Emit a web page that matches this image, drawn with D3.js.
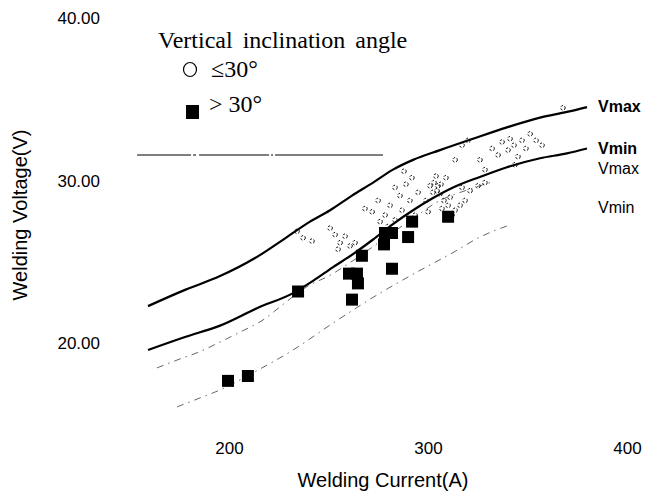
<!DOCTYPE html>
<html>
<head>
<meta charset="utf-8">
<script src="https://cdn.jsdelivr.net/npm/d3@7"></script>
<style>
  body { margin: 0; background: #fff; }
  svg { display: block; }
</style>
</head>
<body>
<div id="chart"></div>
<script>
// ticks
const xTicks = [200, 300, 400];
const yTicks = [20, 30, 40];

// squares: inclination > 30 deg
const squareCurrent = [199.5, 209.5, 234.7, 261.8, 260.3, 264.3, 264.8, 266.8, 278.4, 281.9, 277.9, 281.9, 290.0, 292.0, 310.1];
const squareVoltage = [17.7, 18.0, 23.2, 22.7, 24.3, 24.3, 23.7, 25.4, 26.8, 26.8, 26.1, 24.6, 26.55, 27.5, 27.8];

// small circles: inclination <= 30 deg
const circleCurrent = [
  234.2, 237.2, 241.7, 250.8, 253.3, 255.8, 258.3, 260.8, 254.8, 263.3,
  268.3, 271.9, 274.9, 278.4, 280.9, 283.4, 285.9, 286.9, 288.9, 290.9, 293.5, 295.0, 287.9, 291.9, 283.4, 275.9, 279.9,
  301.0, 303.0, 305.0, 304.5, 306.5, 302.5, 306.0, 308.0, 310.1, 307.0, 311.1, 299.0, 300.0, 313.6, 316.1, 318.6, 304.0, 309.0,
  321.1, 325.1, 328.6, 312.1, 317.1,
  317.1, 320.1, 326.1, 332.2, 335.2, 337.2, 340.2, 341.2, 343.2, 345.2, 347.2, 349.2, 351.3, 354.3, 357.3, 313.6, 328.6, 343.7, 367.8
];
const circleVoltage = [
  26.9, 26.5, 26.3, 27.1, 26.7, 26.2, 26.6, 26.0, 25.8, 26.2,
  28.3, 28.1, 28.8, 27.9, 28.5, 27.6, 29.1, 28.2, 29.8, 28.8, 27.9, 29.3, 30.6, 30.2, 29.6, 27.5, 27.2,
  29.7, 29.9, 29.7, 29.4, 29.8, 29.3, 29.2, 28.8, 28.5, 28.3, 29.0, 28.8, 28.1, 28.2, 28.5, 28.8, 30.3, 30.2,
  29.4, 29.7, 29.9, 27.9, 29.6,
  32.2, 32.5, 31.3, 32.0, 31.6, 32.4, 31.9, 32.6, 32.2, 31.5, 32.5, 32.0, 32.9, 32.5, 32.2, 31.3, 30.7, 31.0, 34.5
];

// solid limit curves
const vmaxCurrent = [159.3, 177.9, 195.5, 213.1, 229.1, 240.7, 250.8, 261.8, 272.4, 282.4, 292.5, 306.0, 322.6, 339.7, 356.3, 369.8, 379.9];
const vmaxVoltage = [22.3, 23.3, 24.15, 25.26, 26.55, 27.5, 28.2, 29.1, 29.9, 30.7, 31.3, 31.9, 32.6, 33.3, 33.9, 34.25, 34.55];
const vminCurrent = [159.3, 177.9, 195.5, 214.6, 232.2, 242.2, 252.3, 262.3, 272.4, 282.4, 292.5, 302.5, 312.6, 326.1, 339.7, 356.3, 369.8, 379.9];
const vminVoltage = [19.6, 20.4, 21.1, 22.2, 23.1, 23.85, 24.7, 25.5, 26.4, 27.35, 28.2, 28.95, 29.6, 30.25, 30.85, 31.4, 31.7, 32.0];

// faint dashed limit curves
const dashMaxCurrent = [163.8, 175.4, 185.4, 194.0, 205.5, 217.1, 227.1, 239.2, 250.8, 262.3, 277.4, 292.5, 306.0, 318.6, 331.2];
const dashMaxVoltage = [18.5, 19.05, 19.5, 20.0, 20.7, 21.45, 22.4, 23.5, 24.2, 25.1, 26.4, 27.7, 28.8, 29.4, 29.9];
const dashMinCurrent = [173.9, 185.4, 195.5, 212.1, 232.2, 252.3, 275.9, 296.0, 312.6, 326.1, 341.2];
const dashMinVoltage = [16.1, 16.65, 17.14, 18.2, 19.6, 21.26, 23.1, 24.5, 25.6, 26.55, 27.3];

// horizontal reference line
const refCurrent = [153.8, 277.4];
const refVoltage = [31.6, 31.6];

const W = 646, H = 495;
const x = d3.scaleLinear().domain([200, 400]).range([229, 627]);
const y = d3.scaleLinear().domain([20, 30]).range([343.5, 181]);

const svg = d3.select("#chart").append("svg")
  .attr("width", W).attr("height", H)
  .attr("viewBox", `0 0 ${W} ${H}`);

const sans = "'Liberation Sans', Arial, sans-serif";
const serif = "'Liberation Serif', 'Times New Roman', serif";

// axes (labels only, no lines)
const xAxis = svg.append("g")
  .attr("transform", "translate(0,440)")
  .call(d3.axisBottom(x).tickValues(xTicks).tickSize(0).tickPadding(0).tickFormat(d3.format("d")));
xAxis.select(".domain").remove();
xAxis.selectAll("text")
  .attr("dy", "0.71em").attr("y", 2)
  .style("font-family", sans).style("font-size", "17px").attr("fill", "#000");

const yAxis = svg.append("g")
  .attr("transform", "translate(100,0)")
  .call(d3.axisLeft(y).tickValues(yTicks).tickSize(0).tickPadding(0).tickFormat(d3.format(".2f")));
yAxis.select(".domain").remove();
yAxis.selectAll("text")
  .style("font-family", sans).style("font-size", "17px").attr("fill", "#000");

svg.append("text")
  .attr("x", 383).attr("y", 487)
  .attr("text-anchor", "middle")
  .style("font-family", sans).style("font-size", "20px")
  .text("Welding Current(A)");

svg.append("text")
  .attr("transform", "translate(27,215) rotate(-90)")
  .attr("text-anchor", "middle")
  .style("font-family", sans).style("font-size", "20px")
  .text("Welding Voltage(V)");

const zip = (a, b) => a.map((v, i) => [v, b[i]]);
const line = d3.line().x(d => x(d[0])).y(d => y(d[1])).curve(d3.curveMonotoneX);

// reference line (scanned, slightly broken)
svg.append("path")
  .attr("d", d3.line().x(d => x(d[0])).y(d => y(d[1]))(zip(refCurrent, refVoltage)))
  .attr("fill", "none").attr("stroke", "#555").attr("stroke-width", 1.3)
  .attr("stroke-dasharray", "54 2 3 3 70 2 2 2 200");

// dashed curves
[[dashMaxCurrent, dashMaxVoltage], [dashMinCurrent, dashMinVoltage]].forEach(([c, v]) => {
  svg.append("path")
    .attr("d", line(zip(c, v)))
    .attr("fill", "none").attr("stroke", "#555").attr("stroke-width", 0.9)
    .attr("stroke-dasharray", "7 5 1.5 5");
});

// solid curves
[[vmaxCurrent, vmaxVoltage], [vminCurrent, vminVoltage]].forEach(([c, v]) => {
  svg.append("path")
    .attr("d", line(zip(c, v)))
    .attr("fill", "none").attr("stroke", "#000").attr("stroke-width", 2.2);
});

// circles
svg.append("g").selectAll("circle")
  .data(zip(circleCurrent, circleVoltage))
  .join("circle")
  .attr("cx", d => x(d[0])).attr("cy", d => y(d[1]))
  .attr("r", 2.3)
  .attr("fill", "none").attr("stroke", "#111").attr("stroke-width", 1)
  .attr("stroke-dasharray", "2.2 1.6");

// squares
const sq = 12;
svg.append("g").selectAll("rect")
  .data(zip(squareCurrent, squareVoltage))
  .join("rect")
  .attr("x", d => x(d[0]) - sq / 2).attr("y", d => y(d[1]) - sq / 2)
  .attr("width", sq).attr("height", sq)
  .attr("fill", "#000");

// curve labels
const labels = [
  { t: "Vmax", yv: vmaxVoltage[vmaxVoltage.length - 1], dy: 5, bold: true },
  { t: "Vmin", yv: vminVoltage[vminVoltage.length - 1], dy: 5, bold: true },
  { t: "Vmax", yv: vminVoltage[vminVoltage.length - 1], dy: 25, bold: false },
  { t: "Vmin", yv: vminVoltage[vminVoltage.length - 1], dy: 64, bold: false }
];
svg.append("g").selectAll("text")
  .data(labels)
  .join("text")
  .attr("x", 598)
  .attr("y", d => y(d.yv) + d.dy)
  .style("font-family", sans).style("font-size", "16px")
  .style("font-weight", d => d.bold ? "bold" : "normal")
  .text(d => d.t);

// legend
const lg = svg.append("g");
lg.append("text").attr("x", 158).attr("y", 48)
  .style("font-family", serif).style("font-size", "24px").style("word-spacing", "4px")
  .text("Vertical inclination angle");
lg.append("ellipse").attr("cx", 190).attr("cy", 69.5).attr("rx", 6.5).attr("ry", 7)
  .attr("fill", "none").attr("stroke", "#000").attr("stroke-width", 1.2);
lg.append("text").attr("x", 211).attr("y", 77)
  .style("font-family", serif).style("font-size", "24px")
  .text("\u226430\u00b0");
lg.append("rect").attr("x", 186).attr("y", 105).attr("width", 13).attr("height", 14)
  .attr("fill", "#000");
lg.append("text").attr("x", 209).attr("y", 112)
  .style("font-family", serif).style("font-size", "24px")
  .text("> 30\u00b0");
</script>
</body>
</html>
